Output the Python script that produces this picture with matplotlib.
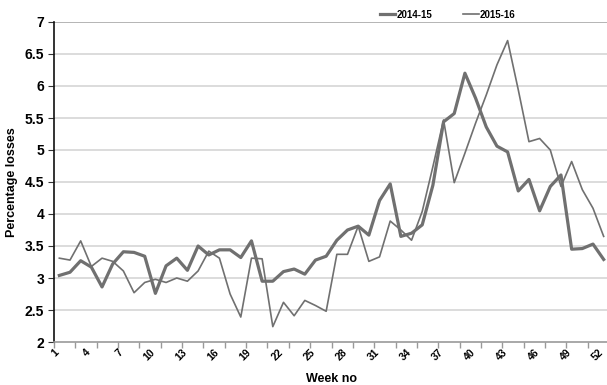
import numpy as np
import matplotlib
matplotlib.use("Agg")
import matplotlib.pyplot as plt

weeks = np.arange(1, 53)
tick_weeks = list(range(1, 53, 3))

losses_2014_15 = [3.04, 3.09, 3.27, 3.17, 2.86, 3.22, 3.41, 3.40, 3.34, 2.76,
                  3.19, 3.31, 3.12, 3.50, 3.36, 3.44, 3.44, 3.32, 3.58, 2.95,
                  2.95, 3.10, 3.14, 3.06, 3.28, 3.34, 3.59, 3.75, 3.81, 3.67,
                  4.21, 4.47, 3.65, 3.70, 3.83, 4.45, 5.44, 5.57, 6.20, 5.81,
                  5.36, 5.06, 4.97, 4.36, 4.54, 4.05, 4.43, 4.61, 3.45, 3.46,
                  3.53, 3.29]
losses_2015_16 = [3.31, 3.28, 3.58, 3.18, 3.31, 3.26, 3.11, 2.77, 2.93, 2.98,
                  2.93, 3.00, 2.95, 3.11, 3.42, 3.31, 2.75, 2.39, 3.31, 3.30,
                  2.24, 2.62, 2.41, 2.65, 2.57, 2.48, 3.37, 3.37, 3.81, 3.26,
                  3.33, 3.89, 3.75, 3.59, 4.04, 4.74, 5.47, 4.49, 4.95, 5.42,
                  5.86, 6.33, 6.71, 5.94, 5.13, 5.18, 5.00, 4.43, 4.82, 4.38,
                  4.09, 3.65]
series_names = ["2014-15", "2015-16"]

plt.rcParams['font.family'] = ['Liberation Sans', 'DejaVu Sans']
plt.rcParams['font.weight'] = 'bold'

fig = plt.figure(figsize=(6.07, 3.85), dpi=100)
ax = fig.add_axes([54 / 607, 43 / 385, 555 / 607, 320 / 385])

line_col = "#707070"
ax.plot(weeks, losses_2014_15, color=line_col, lw=2.3, label=series_names[0], zorder=3)
ax.plot(weeks, losses_2015_16, color=line_col, lw=1.2, label=series_names[1], zorder=3)

ax.set_xlim(0.5, 52.5)
ax.set_ylim(2, 7)
yticks = np.arange(2, 7.01, 0.5)
ax.set_yticks(yticks)
ax.set_yticklabels([f"{v:g}" for v in yticks], fontsize=10, fontweight='bold')

# week labels: rotated, nudged slightly left of each week like the original
ax.set_xticks(tick_weeks)
ax.set_xticklabels([])
for w in tick_weeks:
    ax.annotate(str(w), xy=(w, 0), xycoords=('data', 'axes fraction'),
                xytext=(-1.5, -6), textcoords='offset points', rotation=45,
                ha='right', va='center', rotation_mode='anchor',
                fontsize=7.5, fontweight='bold', annotation_clip=False)
ax.set_xticks(np.arange(0.5, 53, 2), minor=True)
ax.tick_params(axis='x', which='major', length=0)
ax.tick_params(axis='x', which='minor', length=4, color="#999999", width=1)
ax.tick_params(axis='y', length=4, width=0.8, color="#333333", pad=3)

for v in np.arange(2.5, 7.01, 0.5):
    ax.axhline(v, color="#a8a8a8" if v == 7 else "#d6d6d6", lw=1.2, zorder=1)

for s in ['top', 'right']:
    ax.spines[s].set_visible(False)
ax.spines['left'].set_color("#111111")
ax.spines['left'].set_linewidth(1.2)
ax.spines['bottom'].set_color("#999999")
ax.spines['bottom'].set_linewidth(1.2)

ax.set_xlabel("Week no", fontsize=9, fontweight='bold', labelpad=15)
ax.set_ylabel("Percentage losses", fontsize=9, fontweight='bold', labelpad=5)

ax.legend(ncol=2, loc='lower left', bbox_to_anchor=(0.58, 0.995), frameon=False,
          prop={'size': 7, 'weight': 'bold'}, handlelength=1.6, handletextpad=0.1,
          columnspacing=3.2, borderaxespad=0)

fig.savefig("out.png", dpi=100)
